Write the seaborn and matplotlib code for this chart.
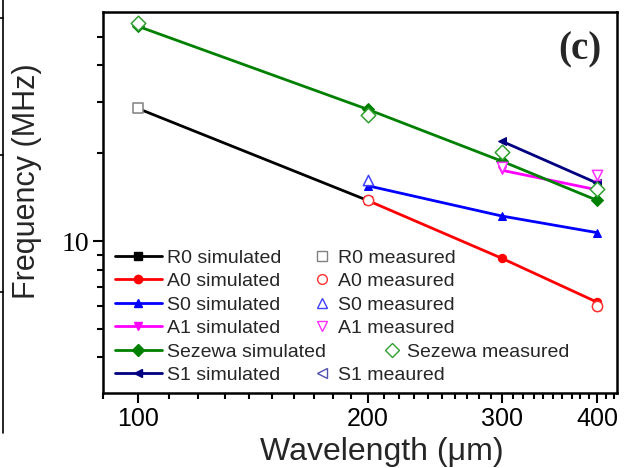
import numpy as np
import matplotlib
matplotlib.use("Agg")
import matplotlib.pyplot as plt
from matplotlib.lines import Line2D
import seaborn as sns

# ---------------- data ----------------
r0_sim_wl = [100, 200]
r0_sim_f = [28.5, 13.8]
a0_sim_wl = [200, 300, 400]
a0_sim_f = [13.8, 8.74, 6.18]
s0_sim_wl = [200, 300, 400]
s0_sim_f = [15.5, 12.2, 10.7]
a1_sim_wl = [300, 400]
a1_sim_f = [17.5, 15.0]
sez_sim_wl = [100, 200, 300, 400]
sez_sim_f = [54.5, 28.3, 18.8, 13.8]
s1_sim_wl = [300, 400]
s1_sim_f = [22.0, 15.8]

r0_meas_wl = [100]
r0_meas_f = [28.5]
a0_meas_wl = [200, 400]
a0_meas_f = [13.8, 6.0]
a0_meas_err = [0.0, 0.2]
s0_meas_wl = [200]
s0_meas_f = [16.2]
a1_meas_wl = [300, 400]
a1_meas_f = [17.9, 16.8]
a1_meas_err = [0.0, 0.6]
sez_meas_wl = [100, 200, 300, 400]
sez_meas_f = [55.8, 27.0, 20.2, 15.1]
s1_meas_wl = []
s1_meas_f = []

sim_labels = ["R0 simulated", "A0 simulated", "S0 simulated", "A1 simulated",
              "Sezewa simulated", "S1 simulated"]
meas_labels = ["R0 measured", "A0 measured", "S0 measured", "A1 measured",
               "Sezewa measured", "S1 meaured"]
x_ticks = [100, 200, 300, 400]
x_ticklabels = ["100", "200", "300", "400"]
y_ticks = [10]
y_ticklabels = ["10"]

# ---------------- style ----------------
sns.set_style("ticks")
plt.rcParams["font.family"] = ["Liberation Sans", "DejaVu Sans"]
plt.rcParams["axes.linewidth"] = 1.6

sim_colors = ["black", "#ff0000", "#0000ff", "#ff00ff", "#008000", "#000080"]
meas_colors = ["#808080", "#ff3030", "#4040ff", "#ff30ff", "#30a030", "#5050b0"]
sim_markers = ["s", "o", "^", "v", "D", "<"]
meas_markers = ["s", "o", "^", "v", "D", "<"]

fig = plt.figure(figsize=(6.24, 4.68), dpi=100)
ax = fig.add_axes([0.165, 0.160, 0.824, 0.814])
ax.set_xscale("log")
ax.set_yscale("log")

sims = [(r0_sim_wl, r0_sim_f), (a0_sim_wl, a0_sim_f), (s0_sim_wl, s0_sim_f),
        (a1_sim_wl, a1_sim_f), (sez_sim_wl, sez_sim_f), (s1_sim_wl, s1_sim_f)]
for (x, y), c, m in zip(sims, sim_colors, sim_markers):
    sns.lineplot(x=np.array(x, float), y=np.array(y, float), color=c, marker=m,
                 markersize=6, markeredgecolor=c, linewidth=2.0, ax=ax,
                 legend=False, sort=True)

meas = [(r0_meas_wl, r0_meas_f), (a0_meas_wl, a0_meas_f), (s0_meas_wl, s0_meas_f),
        (a1_meas_wl, a1_meas_f), (sez_meas_wl, sez_meas_f), (s1_meas_wl, s1_meas_f)]
for (x, y), c, m in zip(meas, meas_colors, meas_markers):
    if len(x) == 0:
        continue
    sns.scatterplot(x=np.array(x, float), y=np.array(y, float), marker=m, s=55,
                    color=c, facecolors="white", edgecolor=c, linewidth=1.1,
                    ax=ax, legend=False, zorder=5)
    coll = ax.collections[-1]
    coll.set_facecolor("white")
    coll.set_edgecolor(c)

ax.errorbar(a0_meas_wl, a0_meas_f, yerr=a0_meas_err, fmt="none",
            ecolor=meas_colors[1], elinewidth=1.0, capsize=3, zorder=4)
ax.errorbar(a1_meas_wl, a1_meas_f, yerr=a1_meas_err, fmt="none",
            ecolor=meas_colors[3], elinewidth=1.0, capsize=3, zorder=4)

# ---------------- axes ----------------
ax.set_xlim(90.2, 424.6)
ax.set_ylim(3.02, 60.9)
ax.set_xticks(x_ticks)
ax.set_xticklabels(x_ticklabels, fontsize=18)
ax.set_xticks([v for v in range(90, 421, 10) if v not in x_ticks], minor=True)
ax.set_xticklabels([], minor=True)
ax.set_yticks(y_ticks)
ax.set_yticklabels(y_ticklabels, fontsize=20, fontfamily="Liberation Serif")
ax.set_yticks([4, 5, 6, 7, 8, 9, 20, 30, 40, 50], minor=True)
ax.set_yticklabels([], minor=True)
ax.tick_params(which="both", direction="out", width=1.5, colors="black",
               top=False, right=False)
ax.tick_params(which="major", length=7, pad=3)
ax.tick_params(which="minor", length=4)
for s in ax.spines.values():
    s.set_color("black")
    s.set_linewidth(1.8)

ax.set_xlabel("Wavelength (μm)", fontsize=23)
ax.xaxis.set_label_coords(0.543, -0.115)
ax.set_ylabel("Frequency (MHz)", fontsize=22)
ax.yaxis.set_label_coords(-0.119, 0.556)

ax.text(0.928, 0.900, "(c)", transform=ax.transAxes, ha="center", va="center",
        fontsize=28, fontweight="bold", fontfamily="Liberation Serif")

# ---------------- legends ----------------
sim_handles = [Line2D([0], [0], color=c, marker=m, lw=2.0, ms=6, mec=c)
               for c, m in zip(sim_colors, sim_markers)]
meas_handles = [Line2D([0], [0], ls="none", marker=m, mfc="white", mec=c, ms=7, mew=1.0)
                for c, m in zip(meas_colors, meas_markers)]
blank = Line2D([0], [0], ls="none", marker=None)

common = dict(frameon=False, loc="upper left", borderpad=0, borderaxespad=0,
              handletextpad=0.3, labelspacing=0.3, fontsize=14)
leg1 = ax.legend(sim_handles, sim_labels, bbox_to_anchor=(0.0233, 0.378),
                 handlelength=2.4, **common)
ax.add_artist(leg1)
h2 = meas_handles[:4] + [blank] + [meas_handles[5]]
l2 = meas_labels[:4] + [" "] + [meas_labels[5]]
leg2 = ax.legend(h2, l2, bbox_to_anchor=(0.407, 0.378), handlelength=1.0, **common)
ax.add_artist(leg2)
h3 = [blank] * 4 + [meas_handles[4]]
l3 = [" "] * 4 + [meas_labels[4]]
leg3 = ax.legend(h3, l3, bbox_to_anchor=(0.543, 0.378), handlelength=1.0, **common)

# edge of the neighbouring panel visible at the left of the reference
W, H = 624.0, 468.0
fig.add_artist(Line2D([3 / W, 3 / W], [1.0, 1 - 433 / H], transform=fig.transFigure,
                      color="black", lw=1.2))
for yy in [18, 155, 292]:
    fig.add_artist(Line2D([0, 3 / W], [1 - yy / H, 1 - yy / H],
                          transform=fig.transFigure, color="black", lw=1.2))

fig.savefig("out.png", dpi=100)
